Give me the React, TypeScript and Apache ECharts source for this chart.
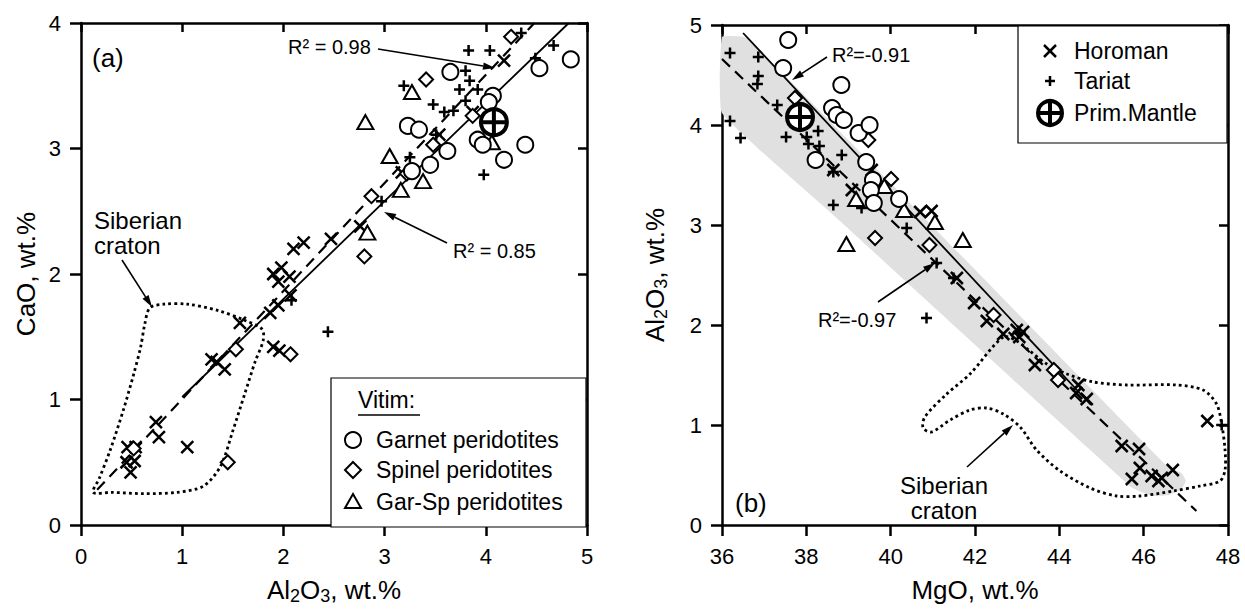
import React, { useEffect, useRef } from "react";
import * as echarts from "echarts";

const FONT = '"Liberation Sans", Arial, Helvetica, sans-serif';

// ---------------- Panel (a): CaO vs Al2O3 ----------------
const aXRange = [0, 5, 1];
const aYRange = [0, 4, 1];
const aGarnet = [
  [3.65, 3.61], [4.07, 3.42], [4.03, 3.37], [4.53, 3.64], [4.84, 3.71], [3.23, 3.18], [3.34, 3.15],
  [3.92, 3.07], [3.97, 3.03], [4.39, 3.03], [4.18, 2.91], [3.62, 2.98], [3.45, 2.87], [3.27, 2.82],
];
const aSpinel = [
  [4.25, 3.89], [3.41, 3.55], [3.48, 3.03], [3.87, 3.26], [2.87, 2.62], [2.8, 2.14], [1.53, 1.4],
  [2.07, 1.36], [1.45, 0.5], [0.52, 0.61], [3.22, 2.8],
];
const aGarSp = [[3.27, 3.45], [2.81, 3.21], [3.05, 2.94], [3.38, 2.74], [3.16, 2.67], [2.83, 2.33], [4.06, 3.05]];
const aHoroman = [
  [0.46, 0.62], [0.54, 0.62], [0.45, 0.5], [0.53, 0.51], [0.49, 0.42], [0.74, 0.82], [0.77, 0.7],
  [1.05, 0.62], [1.29, 1.32], [1.34, 1.3], [1.42, 1.24], [1.9, 1.42], [1.96, 1.39], [2.1, 2.2],
  [2.2, 2.25], [2.47, 2.28], [1.9, 2.0], [1.98, 2.05], [1.95, 1.94], [2.06, 1.98], [2.07, 1.83],
  [1.95, 1.75], [1.87, 1.69], [1.57, 1.61], [2.76, 2.38], [3.54, 3.11], [4.18, 3.7], [3.17, 2.81], [3.87, 3.29],
];
const aTariat = [
  [3.83, 3.78], [4.04, 3.78], [4.67, 3.82], [4.49, 3.72], [4.35, 3.92], [3.8, 3.62], [3.84, 3.54],
  [3.74, 3.47], [3.92, 3.47], [3.19, 3.5], [3.48, 3.35], [3.59, 3.29], [3.68, 3.3], [3.8, 3.38],
  [3.98, 2.79], [3.25, 2.93], [3.51, 3.11], [2.44, 1.54], [2.08, 1.79], [2.97, 2.58],
];
const aPrimMantle = [[4.08, 3.21]];
const aFitDashed = [[0.16, 0.28], [4.48, 4.0]]; // R2 = 0.98
const aFitSolid = [[1.0, 1.02], [4.82, 4.0]]; // R2 = 0.85
const aCraton = [
  [0.12, 0.26], [0.3, 0.26], [0.62, 0.25], [0.95, 0.26], [1.21, 0.31], [1.38, 0.47], [1.5, 0.75],
  [1.62, 1.05], [1.72, 1.3], [1.8, 1.47], [1.79, 1.56], [1.62, 1.63], [1.35, 1.71], [1.05, 1.76],
  [0.82, 1.76], [0.68, 1.73], [0.63, 1.6], [0.59, 1.42], [0.52, 1.2], [0.42, 0.92], [0.29, 0.6], [0.18, 0.37],
];

// ---------------- Panel (b): Al2O3 vs MgO ----------------
const bXRange = [36, 48, 2];
const bYRange = [0, 5, 1];
const bGarnet = [
  [37.57, 4.85], [37.45, 4.57], [38.83, 4.4], [38.61, 4.17], [38.72, 4.1], [38.89, 4.05], [39.24, 3.92],
  [39.5, 4.0], [38.22, 3.65], [39.42, 3.63], [39.58, 3.45], [39.53, 3.35], [39.6, 3.22], [40.2, 3.26],
];
const bSpinel = [[37.73, 4.27], [39.47, 3.85], [40.01, 3.46], [39.63, 2.87], [40.92, 2.8], [42.44, 2.1], [43.87, 1.55], [43.97, 1.45]];
const bGarSp = [[39.18, 3.26], [38.95, 2.81], [41.05, 3.03], [41.71, 2.85], [39.85, 3.39], [40.32, 3.15]];
const bHoroman = [
  [38.64, 3.55], [39.08, 3.35], [39.55, 3.55], [40.7, 3.13], [40.97, 3.14], [41.57, 2.47], [41.98, 2.22],
  [42.28, 2.04], [42.67, 1.91], [42.99, 1.95], [43.14, 1.93], [43.05, 1.88], [43.42, 1.6], [44.45, 1.4],
  [44.4, 1.32], [44.65, 1.26], [45.48, 0.79], [45.89, 0.76], [45.91, 0.57], [45.72, 0.46], [46.19, 0.49],
  [46.35, 0.44], [46.43, 0.47], [46.69, 0.55], [47.51, 1.04],
];
const bTariat = [
  [36.19, 4.72], [36.86, 4.68], [36.86, 4.49], [36.84, 4.41], [36.19, 4.04], [36.44, 3.87], [37.52, 3.88],
  [37.31, 4.2], [38.28, 3.94], [38.01, 3.88], [38.05, 3.81], [38.31, 3.79], [38.84, 3.7], [38.64, 3.53],
  [38.64, 3.2], [39.31, 3.17], [40.38, 2.97], [41.09, 2.62], [40.85, 2.07], [41.49, 2.47], [47.85, 1.0], [43.05, 1.92],
];
const bPrimMantle = [[37.85, 4.08]];
const bFitSolid = [[36.5, 4.92], [44.75, 1.2]]; // R2 = -0.91
const bFitDashed = [[36.0, 4.66], [47.25, 0.14]]; // R2 = -0.97
const bBand = [
  [36.0, 4.88], [36.6, 4.87], [46.6, 0.57], [46.9, 0.52], [47.0, 0.44], [46.9, 0.36], [46.6, 0.3],
  [46.2, 0.29], [45.7, 0.38], [38.72, 3.07], [36.0, 4.12],
];
const bCraton = [
  [42.67, 1.88], [41.88, 1.51], [41.33, 1.31], [40.81, 1.08], [40.77, 0.97], [40.97, 0.93], [41.41, 1.05],
  [41.88, 1.15], [42.28, 1.17], [42.67, 1.11], [43.07, 0.98], [43.46, 0.75], [44.02, 0.54], [44.73, 0.37],
  [45.36, 0.29], [45.91, 0.29], [46.7, 0.34], [47.34, 0.39], [47.81, 0.44], [47.93, 0.55], [47.93, 0.75],
  [47.85, 1.01], [47.73, 1.21], [47.41, 1.35], [46.78, 1.4], [45.6, 1.4], [44.81, 1.43], [44.18, 1.51],
  [43.7, 1.61], [43.3, 1.74], [42.99, 1.84],
];

const legendA = ["Garnet peridotites", "Spinel peridotites", "Gar-Sp peridotites"];
const legendB = ["Horoman", "Tariat", "Prim.Mantle"];

const CROSS = "path://M0,0L10,10M10,0L0,10";
const PLUS = "path://M5,0L5,10M0,5L10,5";

function mkX(gridIndex: number, pos: string, r: number[], name?: string, nameGap?: number) {
  const bottom = pos === "bottom";
  return {
    type: "value", gridIndex, position: pos, min: r[0], max: r[1], interval: r[2],
    axisLine: { show: true, onZero: false, lineStyle: { color: "#000", width: 2.5 } },
    axisTick: { show: true, inside: !bottom, length: bottom ? 11 : 9, lineStyle: { color: "#000", width: 2.5 } },
    axisLabel: { show: bottom, fontSize: 22, fontFamily: FONT, color: "#000", margin: 20 },
    splitLine: { show: false },
    name: name || "", nameLocation: "middle", nameGap: nameGap || 50,
    nameTextStyle: {
      fontSize: 26, fontFamily: FONT, color: "#000", lineHeight: 30,
      rich: { s: { fontSize: 18, fontFamily: FONT, color: "#000", verticalAlign: "bottom", lineHeight: 16 } },
    },
  };
}
function mkY(gridIndex: number, pos: string, r: number[], name?: string, nameGap?: number) {
  const left = pos === "left";
  return {
    type: "value", gridIndex, position: pos, min: r[0], max: r[1], interval: r[2],
    axisLine: { show: true, onZero: false, lineStyle: { color: "#000", width: 2.5 } },
    axisTick: { show: true, inside: !left, length: left ? 11 : 9, lineStyle: { color: "#000", width: 2.5 } },
    axisLabel: { show: left, fontSize: 22, fontFamily: FONT, color: "#000", margin: 20 },
    splitLine: { show: false },
    name: name || "", nameLocation: "middle", nameGap: nameGap || 40, nameRotate: 90,
    nameTextStyle: {
      fontSize: 26, fontFamily: FONT, color: "#000", lineHeight: 30,
      rich: { s: { fontSize: 18, fontFamily: FONT, color: "#000", verticalAlign: "bottom", lineHeight: 16 } },
    },
  };
}

const OPEN = { color: "#fff", borderColor: "#000", borderWidth: 2, opacity: 1 };
const STROKE = { color: "rgba(0,0,0,0)", borderColor: "#000", borderWidth: 2.5, opacity: 1 };

function scatterSet(xi: number, yi: number, g: number[][], s: number[][], t: number[][], h: number[][], p: number[][], pm: number[][]) {
  const base = { type: "scatter", xAxisIndex: xi, yAxisIndex: yi, silent: true };
  return [
    { ...base, name: "Horoman", data: h, symbol: CROSS, symbolSize: 12, itemStyle: STROKE, z: 4 },
    { ...base, name: "Tariat", data: p, symbol: PLUS, symbolSize: 11, itemStyle: STROKE, z: 4 },
    { ...base, name: "Gar-Sp peridotites", data: t, symbol: "triangle", symbolSize: [16, 14], itemStyle: OPEN, z: 5 },
    { ...base, name: "Spinel peridotites", data: s, symbol: "diamond", symbolSize: 14, itemStyle: OPEN, z: 5 },
    { ...base, name: "Garnet peridotites", data: g, symbol: "circle", symbolSize: 16, itemStyle: OPEN, z: 5 },
    { ...base, name: "Prim.Mantle", data: pm, symbol: "circle", symbolSize: 26, itemStyle: { color: "#fff", borderColor: "#000", borderWidth: 4, opacity: 1 }, z: 6 },
    { ...base, name: "Prim.Mantle ", data: pm, symbol: PLUS, symbolSize: 26, itemStyle: { color: "rgba(0,0,0,0)", borderColor: "#000", borderWidth: 4, opacity: 1 }, z: 7 },
  ];
}

function fitLine(xi: number, yi: number, d: number[][], dashed: boolean) {
  return {
    type: "line", xAxisIndex: xi, yAxisIndex: yi, data: d, symbol: "none", silent: true, z: 3,
    lineStyle: { color: "#000", width: dashed ? 2.2 : 1.8, type: dashed ? [11, 7] : "solid", opacity: 1 },
  };
}

function polySeries(xi: number, yi: number, pts: number[][], style: any, smooth: number, z: number) {
  return {
    type: "custom", xAxisIndex: xi, yAxisIndex: yi, silent: true, z, data: [pts[0]],
    renderItem: (params: any, api: any) => {
      if (params.dataIndex !== 0) return null;
      return { type: "polygon", shape: { points: pts.map((p) => api.coord(p)), smooth }, style };
    },
  };
}

function txt(x: number, y: number, text: string, size: number, align = "left") {
  return {
    type: "text", x, y, z: 100, silent: true,
    style: { text, fontSize: size, fontFamily: FONT, fill: "#000", align, textAlign: align, verticalAlign: "middle", textVerticalAlign: "middle" },
  };
}
function arrow(x1: number, y1: number, x2: number, y2: number) {
  const a = Math.atan2(y2 - y1, x2 - x1);
  const L = 12, W = 3.6;
  const bx = x2 - L * Math.cos(a), by = y2 - L * Math.sin(a);
  const px = -Math.sin(a) * W, py = Math.cos(a) * W;
  return [
    { type: "line", z: 100, silent: true, shape: { x1, y1, x2: bx, y2: by }, style: { stroke: "#000", lineWidth: 1.6 } },
    { type: "polygon", z: 100, silent: true, shape: { points: [[x2, y2], [bx + px, by + py], [bx - px, by - py]] }, style: { fill: "#000" } },
  ];
}
function seg(x1: number, y1: number, x2: number, y2: number, w: number) {
  return { type: "line", z: 101, silent: true, shape: { x1, y1, x2, y2 }, style: { stroke: "#000", lineWidth: w } };
}

function buildGraphic() {
  const g: any[] = [];
  // Panel (a) annotations
  g.push(txt(92, 58, "(a)", 26));
  g.push(txt(288, 47, "R² = 0.98", 20));
  g.push(...arrow(378, 49, 495, 68));
  g.push(txt(453, 251, "R² = 0.85", 20));
  g.push(...arrow(447, 243, 384, 212));
  g.push(txt(94, 220, "Siberian", 24));
  g.push(txt(94, 245, "craton", 24));
  g.push(...arrow(122, 260, 152, 307));
  // Panel (a) legend
  g.push({ type: "rect", z: 99, silent: true, shape: { x: 331, y: 378, width: 255, height: 149 }, style: { fill: "#fff", stroke: "#000", lineWidth: 1.2 } });
  g.push(txt(358, 400, "Vitim:", 23));
  g.push(seg(358, 415, 420, 415, 1.5));
  g.push({ type: "circle", z: 101, silent: true, shape: { cx: 353, cy: 440, r: 8 }, style: { fill: "#fff", stroke: "#000", lineWidth: 2 } });
  g.push({ type: "polygon", z: 101, silent: true, shape: { points: [[353, 462], [361, 470], [353, 478], [345, 470]] }, style: { fill: "#fff", stroke: "#000", lineWidth: 2 } });
  g.push({ type: "polygon", z: 101, silent: true, shape: { points: [[353, 494], [361, 508], [345, 508]] }, style: { fill: "#fff", stroke: "#000", lineWidth: 2 } });
  g.push(txt(376, 440, legendA[0], 23));
  g.push(txt(376, 470, legendA[1], 23));
  g.push(txt(376, 502, legendA[2], 23));

  // Panel (b) annotations
  g.push(txt(832, 55, "R²=-0.91", 20));
  g.push(...arrow(827, 57, 792, 80));
  g.push(txt(818, 320, "R²=-0.97", 20));
  g.push(...arrow(878, 302, 935, 263));
  g.push(txt(735, 503, "(b)", 26));
  g.push(txt(944, 485, "Siberian", 24, "center"));
  g.push(txt(944, 510, "craton", 24, "center"));
  g.push(...arrow(967, 467, 1013, 425));
  // Panel (b) legend
  g.push({ type: "rect", z: 99, silent: true, shape: { x: 1018, y: 26, width: 209, height: 117 }, style: { fill: "#fff", stroke: "#000", lineWidth: 1.2 } });
  g.push(seg(1044, 45, 1056, 57, 2.5));
  g.push(seg(1056, 45, 1044, 57, 2.5));
  g.push(seg(1050, 76, 1050, 86, 2.5));
  g.push(seg(1045, 81, 1055, 81, 2.5));
  g.push({ type: "circle", z: 101, silent: true, shape: { cx: 1050, cy: 113, r: 12 }, style: { fill: "#fff", stroke: "#000", lineWidth: 4 } });
  g.push(seg(1050, 101, 1050, 125, 4));
  g.push(seg(1038, 113, 1062, 113, 4));
  g.push(txt(1074, 51, legendB[0], 23));
  g.push(txt(1074, 81, legendB[1], 23));
  g.push(txt(1074, 113, legendB[2], 23));
  return g;
}

export default function App() {
  const ref = useRef<HTMLDivElement>(null);
  useEffect(() => {
    if (!ref.current) return;
    const chart = echarts.init(ref.current, undefined, { renderer: "svg" });
    const dotted = { fill: "none", stroke: "#000", lineWidth: 2.8, lineDash: [2.8, 3.2] };
    const option: any = {
      animation: false,
      backgroundColor: "#fff",
      textStyle: { fontFamily: FONT },
      grid: [
        { left: 81, top: 23, width: 506, height: 505 },
        { left: 722, top: 25, width: 506, height: 504 },
      ],
      xAxis: [
        mkX(0, "bottom", aXRange, "Al{s|2}O{s|3}, wt.%", 50),
        mkX(0, "top", aXRange),
        mkX(1, "bottom", bXRange, "MgO, wt.%", 50),
        mkX(1, "top", bXRange),
      ],
      yAxis: [
        mkY(0, "left", aYRange, "CaO, wt.%", 40),
        mkY(0, "right", aYRange),
        mkY(1, "left", bYRange, "Al{s|2}O{s|3}, wt.%", 52),
        mkY(1, "right", bYRange),
      ],
      series: [
        polySeries(0, 0, aCraton, dotted, 0.3, 2),
        fitLine(0, 0, aFitDashed, true),
        fitLine(0, 0, aFitSolid, false),
        ...scatterSet(0, 0, aGarnet, aSpinel, aGarSp, aHoroman, aTariat, aPrimMantle),
        polySeries(2, 2, bBand, { fill: "#e0e0e0", stroke: "none" }, 0.1, 1),
        polySeries(2, 2, bCraton, dotted, 0.3, 2),
        fitLine(2, 2, bFitDashed, true),
        fitLine(2, 2, bFitSolid, false),
        ...scatterSet(2, 2, bGarnet, bSpinel, bGarSp, bHoroman, bTariat, bPrimMantle),
      ],
      graphic: buildGraphic(),
    };
    chart.setOption(option);
    return () => chart.dispose();
  }, []);
  return <div ref={ref} style={{ position: "absolute", left: 0, top: 0, width: 1245, height: 610 }} />;
}
